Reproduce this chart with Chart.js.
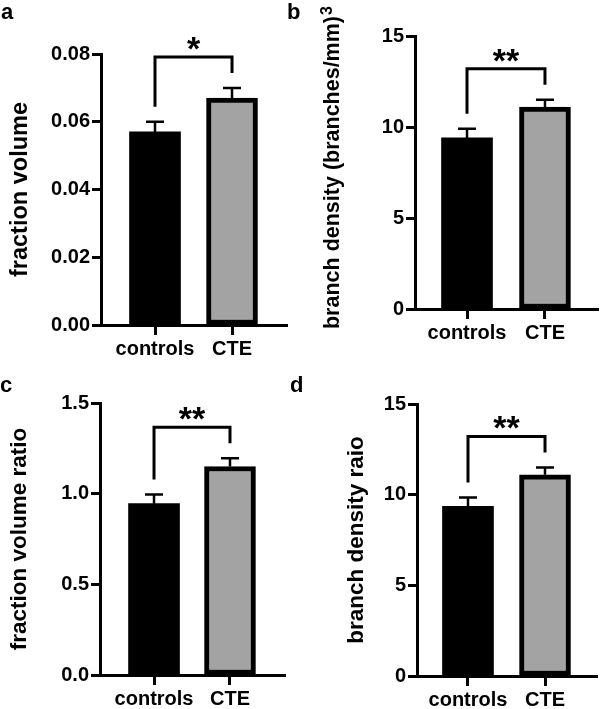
<!DOCTYPE html>
<html><head><meta charset="utf-8">
<script src="https://cdn.jsdelivr.net/npm/chart.js@4.4.1/dist/chart.umd.min.js"></script>
<style>
html,body{margin:0;padding:0;background:#fff;}
#wrap{position:relative;width:600px;height:709px;overflow:hidden;background:#fff;}
canvas{position:absolute;}
.lab{position:absolute;font:bold 22px "Liberation Sans",Arial,sans-serif;line-height:22px;color:#000;}
</style></head><body>
<div id="wrap">
<canvas id="ca" width="300" height="360" style="left:0;top:0"></canvas>
<canvas id="cb" width="300" height="360" style="left:300px;top:0"></canvas>
<canvas id="cc" width="300" height="349" style="left:0;top:360px"></canvas>
<canvas id="cd" width="300" height="349" style="left:300px;top:360px"></canvas>
<div class="lab" style="left:1px;top:1px">a</div>
<div class="lab" style="left:287px;top:1px">b</div>
<div class="lab" style="left:0px;top:374px">c</div>
<div class="lab" style="left:290px;top:374px">d</div>
</div>
<script>
// ---- data ----
const categories = ['controls', 'CTE'];
const fractionVolume = [0.057, 0.067];
const fractionVolumeErr = [0.003, 0.003];
const branchDensity = [9.4, 11.1];
const branchDensityErr = [0.5, 0.4];
const fractionVolumeRatio = [0.945, 1.15];
const fractionVolumeRatioErr = [0.05, 0.045];
const branchDensityRatio = [9.35, 11.1];
const branchDensityRatioErr = [0.5, 0.4];
const ticksA = [0, 0.02, 0.04, 0.06, 0.08];
const ticksB = [0, 5, 10, 15];
const ticksC = [0, 0.5, 1.0, 1.5];
const ticksD = [0, 5, 10, 15];
const sigA = '*', sigB = '**', sigC = '**', sigD = '**';

Chart.defaults.font.family = '"Liberation Sans", Arial, sans-serif';
Chart.defaults.font.weight = 'bold';
Chart.defaults.color = '#000';
const FAM = '"Liberation Sans", Arial, sans-serif';

const annot = {
  id: 'annot',
  afterDatasetsDraw(chart, args, opts) {
    const ctx = chart.ctx, ys = chart.scales.y;
    const meta = chart.getDatasetMeta(0);
    const d = opts.means, e = opts.errs;
    ctx.save();
    ctx.strokeStyle = '#000'; ctx.lineCap = 'butt'; ctx.lineJoin = 'miter';
    const caps = [];
    meta.data.forEach((bar, i) => {
      const yTop = ys.getPixelForValue(d[i]);
      const yErr = ys.getPixelForValue(d[i] + e[i]);
      caps.push(yErr);
      ctx.lineWidth = 2.5;
      ctx.beginPath();
      ctx.moveTo(bar.x, yTop); ctx.lineTo(bar.x, yErr);
      ctx.moveTo(bar.x - 9, yErr); ctx.lineTo(bar.x + 9, yErr);
      ctx.stroke();
    });
    const x1 = meta.data[0].x, x2 = meta.data[1].x;
    const e1 = caps[0] - 15, e2 = caps[1] - 15;
    const top = Math.min(e1, e2) - 16;
    ctx.lineWidth = 3;
    ctx.beginPath();
    ctx.moveTo(x1, e1); ctx.lineTo(x1, top); ctx.lineTo(x2, top); ctx.lineTo(x2, e2);
    ctx.stroke();
    ctx.font = 'bold 34px ' + FAM;
    ctx.textAlign = 'center'; ctx.textBaseline = 'alphabetic'; ctx.fillStyle = '#000';
    ctx.fillText(opts.sig, (x1 + x2) / 2, top + 3);
    // superscript after the y-axis title, if any
    if (opts.sup) {
      const t = ys.options.title;
      const lh = t.font.size * 1.2;
      const tx = ys.left + t.padding.top + lh / 2;
      const cy = (ys.top + ys.bottom) / 2;
      ctx.font = 'bold ' + t.font.size + 'px ' + FAM;
      const w = ctx.measureText(t.text).width;
      ctx.translate(tx, cy);
      ctx.rotate(-Math.PI / 2);
      ctx.font = 'bold 16px ' + FAM;
      ctx.textAlign = 'left'; ctx.textBaseline = 'alphabetic';
      ctx.fillText(opts.sup, w / 2 + 1, -1);
    }
    ctx.restore();
  }
};

function makeChart(id, cfg) {
  return new Chart(document.getElementById(id), {
    type: 'bar',
    data: {
      datasets: [{
        data: categories.map((c, i) => ({ x: i + 1, y: cfg.means[i] })),
        backgroundColor: ['#000000', '#a3a3a3'],
        borderColor: '#000000',
        borderWidth: [0, 5],
        borderSkipped: false,
        barThickness: 51
      }]
    },
    options: {
      responsive: false, animation: false, events: [],
      layout: { padding: { top: cfg.top, right: cfg.right, left: 0, bottom: 0 } },
      plugins: {
        legend: { display: false }, tooltip: { enabled: false },
        annot: { means: cfg.means, errs: cfg.errs, sig: cfg.sig, sup: cfg.sup || '' }
      },
      scales: {
        x: {
          type: 'linear', min: cfg.xmin, max: cfg.xmax, offset: false,
          afterFit(s) { s.height = cfg.xh; },
          afterBuildTicks(s) { s.ticks = categories.map((c, i) => ({ value: i + 1 })); },
          ticks: { callback: (v) => categories[v - 1], font: { size: 20, weight: 'bold' }, color: '#000', padding: 2, maxRotation: 0, autoSkip: false },
          grid: { drawOnChartArea: false, offset: false, tickLength: 10, tickWidth: 3, tickColor: '#000' },
          border: { display: true, width: 3, color: '#000' }
        },
        y: {
          min: 0, max: cfg.yticks[cfg.yticks.length - 1],
          afterFit(s) { s.width = cfg.yw; },
          afterBuildTicks(s) { s.ticks = cfg.yticks.map(v => ({ value: v })); },
          ticks: { callback: (v) => Number(v).toFixed(cfg.dec), font: { size: 20, weight: 'bold' }, color: '#000', padding: 2 },
          grid: { drawOnChartArea: false, tickLength: 9, tickWidth: 3, tickColor: '#000' },
          border: { display: true, width: 3, color: '#000' },
          title: { display: true, text: cfg.title, font: { size: cfg.tsize, weight: 'bold' }, color: '#000', padding: { top: cfg.tpad, bottom: 0 } }
        }
      }
    },
    plugins: [annot]
  });
}

makeChart('ca', { means: fractionVolume, errs: fractionVolumeErr, sig: sigA, yticks: ticksA, dec: 2,
  top: 54, right: 13, yw: 101, xh: 35, xmin: 0.2987, xmax: 2.714, title: 'fraction volume', tsize: 23.5, tpad: 6 });
makeChart('cb', { means: branchDensity, errs: branchDensityErr, sig: sigB, yticks: ticksB, dec: 0,
  top: 36, right: 2, yw: 115, xh: 51, xmin: 0.333, xmax: 2.68, title: 'branch density (branches/mm)', sup: '3', tsize: 21.5, tpad: 20 });
makeChart('cc', { means: fractionVolumeRatio, errs: fractionVolumeRatioErr, sig: sigC, yticks: ticksC, dec: 1,
  top: 43, right: 15, yw: 100, xh: 34, xmin: 0.289, xmax: 2.724, title: 'fraction volume ratio', tsize: 22.5, tpad: 6.5 });
makeChart('cd', { means: branchDensityRatio, errs: branchDensityRatioErr, sig: sigD, yticks: ticksD, dec: 0,
  top: 44, right: 3, yw: 117, xh: 33, xmin: 0.338, xmax: 2.675, title: 'branch density raio', tsize: 22.5, tpad: 43.5 });
</script>
</body></html>
